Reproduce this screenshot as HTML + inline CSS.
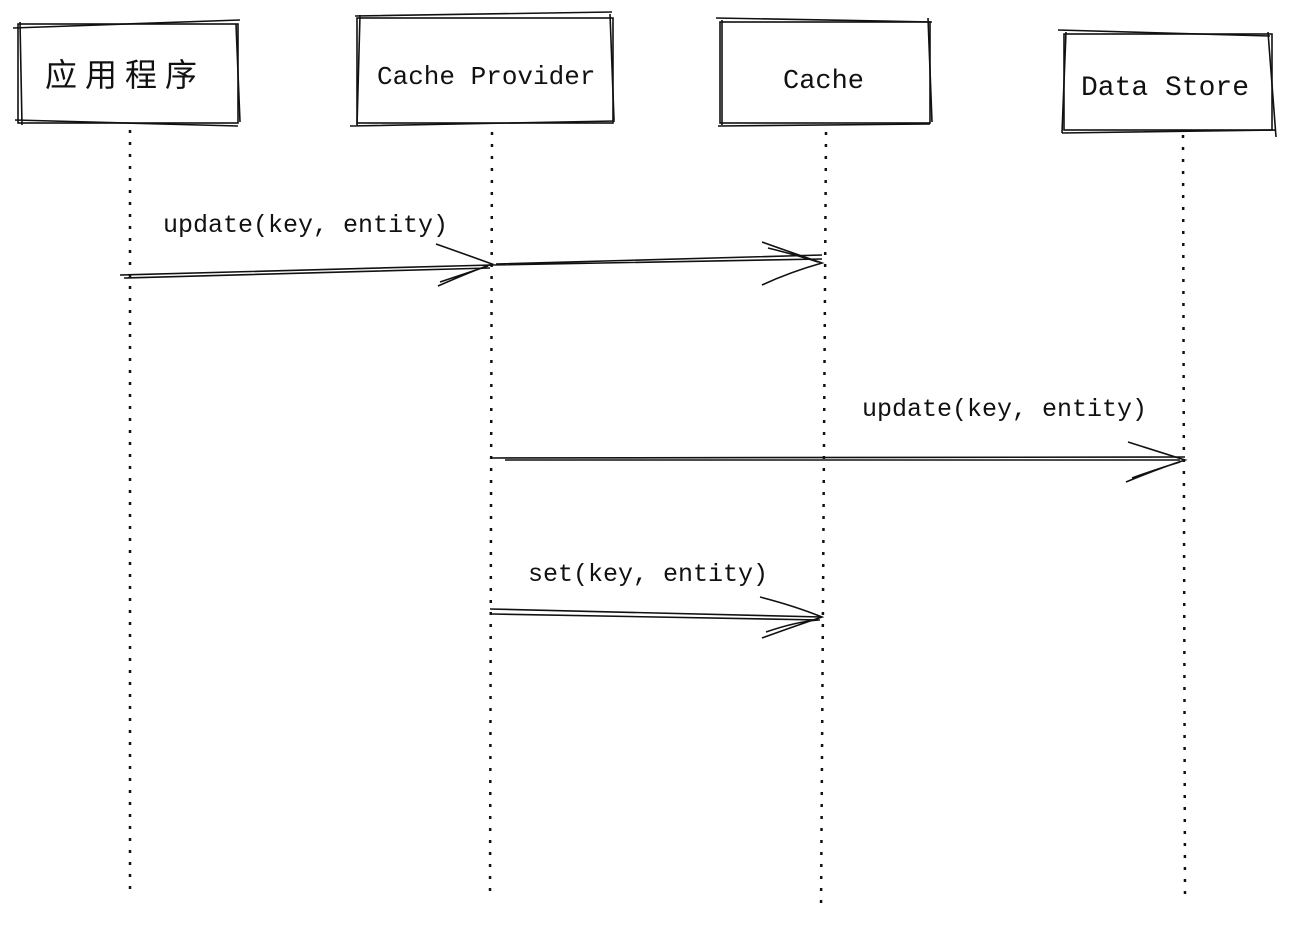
<!DOCTYPE html>
<html><head><meta charset="utf-8"><style>
html,body{margin:0;padding:0;background:#fff;}
svg{display:block}
text{font-family:"Liberation Mono","Noto Sans CJK SC",monospace;fill:#111;}
</style></head><body>
<svg width="1292" height="934" viewBox="0 0 1292 934" xmlns="http://www.w3.org/2000/svg">
<g fill="none" stroke="#111" stroke-width="1.6">
<rect x="18" y="24" width="220" height="99"/>
<path d="M13 28 L240 20 M15 120 L238 126 M20 22 L22 125 M236 24 L240 122"/>
<rect x="357" y="18" width="256" height="105"/>
<path d="M355 16 L612 12 M350 126 L615 121 M360 15 L357 126 M610 14 L614 120"/>
<rect x="720" y="22" width="210" height="101"/>
<path d="M716 18 L932 22 M718 126 L930 124 M722 20 L722 125 M928 18 L932 122"/>
<rect x="1064" y="34" width="208" height="96"/>
<path d="M1058 30 L1270 36 M1062 133 L1275 130 M1066 32 L1062 133 M1268 32 L1276 137"/>
</g>
<g stroke="#111" stroke-width="2.5" stroke-dasharray="3 9" fill="none">
<line x1="130" y1="130" x2="130" y2="890"/>
<line x1="492" y1="132" x2="490" y2="895"/>
<line x1="826" y1="132" x2="821" y2="912"/>
<line x1="1183" y1="135" x2="1185" y2="895"/>
</g>
<g fill="none" stroke="#111" stroke-width="1.6">
<path d="M120 275 L492 265 M124 278 L490 268"/>
<path d="M436 244 Q470 256 492 264 Q470 272 438 286 M440 282 Q470 272 488 266"/>
<path d="M492 265 L822 259 M496 264 L822 255"/>
<path d="M762 242 Q790 252 822 263 Q790 272 762 285 M768 248 Q800 256 818 262"/>
<path d="M492 458 L1185 457 M505 460 L1180 460"/>
<path d="M1128 442 Q1160 452 1185 460 Q1160 468 1126 482 M1132 478 Q1160 468 1180 462"/>
<path d="M490 609 L822 617 M492 614 L820 620"/>
<path d="M760 597 Q795 606 822 617 Q795 626 762 638 M766 632 Q795 622 818 620"/>
</g>
<text x="45" y="86" font-size="32" letter-spacing="8">应用程序</text>
<text x="377" y="84" font-size="26">Cache Provider</text>
<text x="783" y="88" font-size="27">Cache</text>
<text x="1081" y="95" font-size="28">Data Store</text>
<text x="163" y="232" font-size="25">update(key, entity)</text>
<text x="862" y="416" font-size="25">update(key, entity)</text>
<text x="528" y="581" font-size="25">set(key, entity)</text>
</svg>
</body></html>
